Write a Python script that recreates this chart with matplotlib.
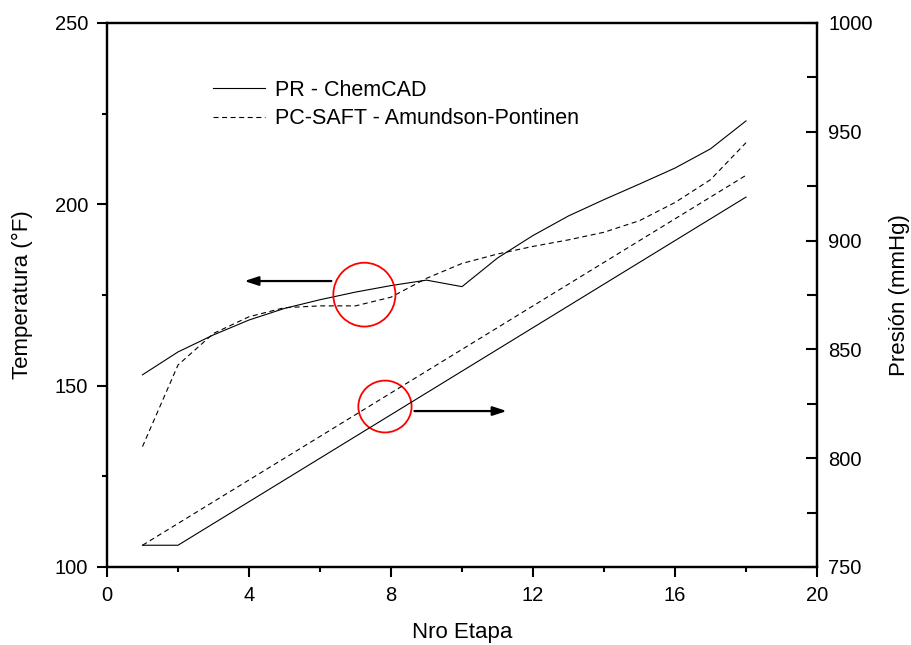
import matplotlib
matplotlib.use("Agg")
import matplotlib.pyplot as plt
from matplotlib.patches import Ellipse
import numpy as np

plt.rcParams["font.family"] = ["Liberation Sans", "DejaVu Sans"]

# stage number
stages = np.arange(1, 19)

# temperature (°F)
temp_pr = [153.0, 159.3, 164.0, 168.1, 171.3, 173.7, 175.8, 177.6, 179.1,
           177.3, 185.2, 191.4, 196.8, 201.3, 205.6, 210.0, 215.3, 223.0]
temp_saft = [133.2, 155.7, 164.4, 169.0, 171.5, 172.0, 172.0, 174.4, 179.6,
             183.7, 186.3, 188.4, 190.2, 192.3, 195.5, 200.5, 206.8, 217.0]

# pressure (mmHg)
pres_pr = [760, 760, 770, 780, 790, 800, 810, 820, 830,
           840, 850, 860, 870, 880, 890, 900, 910, 920]
pres_saft = [760, 770, 780, 790, 800, 810, 820, 830, 840,
             850, 860, 870, 880, 890, 900, 910, 920, 930]

labels = ["PR - ChemCAD", "PC-SAFT - Amundson-Pontinen"]

dash = (0, (4.5, 3.2))
lw = 0.8

fig = plt.figure(figsize=(9.11, 6.45), dpi=100)
ax = fig.add_axes([107 / 911, 78 / 645, 710 / 911, 544 / 645])
ax2 = ax.twinx()

l1, = ax.plot(stages, temp_pr, color="black", lw=lw, label=labels[0])
l2, = ax.plot(stages, temp_saft, color="black", lw=lw, linestyle=dash, label=labels[1])
ax2.plot(stages, pres_pr, color="black", lw=lw)
ax2.plot(stages, pres_saft, color="black", lw=lw, linestyle=dash)

ax.set_xlim(0, 20)
ax.set_ylim(100, 250)
ax2.set_ylim(750, 1000)
ax.set_xticks(np.arange(0, 21, 4))
ax.set_xticks(np.arange(0, 21, 2), minor=True)
ax.set_yticks(np.arange(100, 251, 50))
ax.set_yticks(np.arange(100, 251, 25), minor=True)
ax2.set_yticks(np.arange(750, 1001, 50))
ax2.set_yticks(np.arange(750, 1001, 25), minor=True)

for a in (ax, ax2):
    for s in a.spines.values():
        s.set_linewidth(1.6)

ax.tick_params(which="major", direction="out", length=7.5, width=1.5, labelsize=14.5, pad=6)
ax.tick_params(which="minor", direction="out", length=3.8, width=1.5)
ax.tick_params(top=False, right=False, which="both")
ax2.tick_params(which="major", direction="in", length=8, width=1.5, labelsize=14.5, pad=8)
ax2.tick_params(which="minor", direction="in", length=7, width=1.5)

ax.set_xlabel("Nro Etapa", fontsize=16)
ax.set_ylabel("Temperatura (°F)", fontsize=16)
ax2.set_ylabel("Presión (mmHg)", fontsize=16)
ax.xaxis.set_label_coords(0.5, -0.121)
ax.xaxis.label.set_va("center")
ax.yaxis.set_label_coords(-0.1197, 0.5)
ax.yaxis.label.set_va("center")
ax2.yaxis.set_label_coords(1.1155, 0.5)
ax2.yaxis.label.set_va("center")

# red circles and arrows
ax.add_patch(Ellipse((7.25, 175.1), 1.75, 17.6, fill=False, edgecolor="red", lw=1.3, zorder=5))
ax.add_patch(Ellipse((7.83, 144.25), 1.5, 14.3, fill=False, edgecolor="red", lw=1.3, zorder=5))
arrow = dict(arrowstyle="-|>,head_length=0.55,head_width=0.18", mutation_scale=15,
             color="black", lw=1.6, shrinkA=0, shrinkB=0)
ax.annotate("", xy=(3.87, 178.85), xytext=(6.32, 178.85), arrowprops=arrow)
ax.annotate("", xy=(11.26, 143.0), xytext=(8.66, 143.0), arrowprops=arrow)

ax.legend(handles=[l1, l2], loc="upper left", bbox_to_anchor=(0.149, 0.896),
          frameon=False, fontsize=15.5, handlelength=2.42, handletextpad=0.45,
          labelspacing=0.36, borderpad=0, borderaxespad=0)

fig.savefig("out.png", dpi=100)
